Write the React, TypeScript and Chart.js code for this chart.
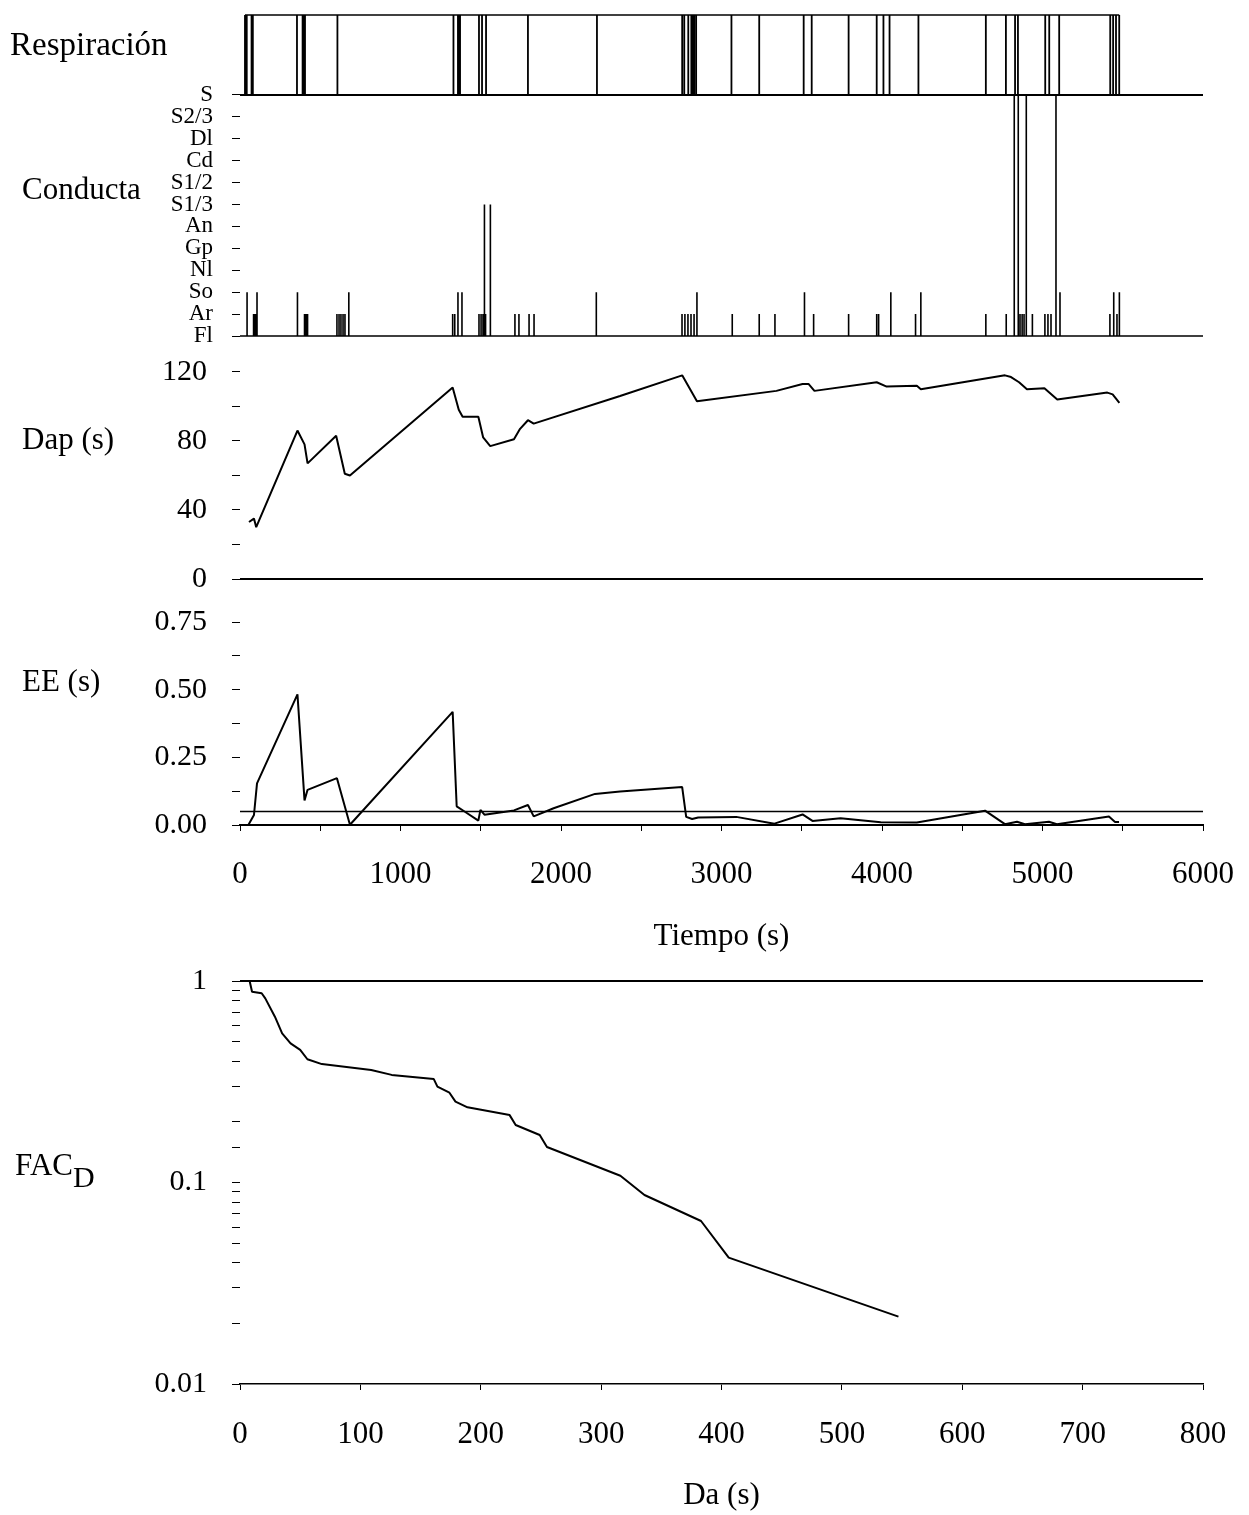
import React, { useEffect, useRef } from 'react';
import { Chart, registerables } from 'chart.js';

Chart.register(...registerables);

const SERIF = '"Liberation Serif", "Times New Roman", Times, serif';
Chart.defaults.font.family = SERIF;
Chart.defaults.color = '#000';

// ---------------- DATA ----------------
const timeTickLabels = [0, 1000, 2000, 3000, 4000, 5000, 6000];
const lagTickLabels = [0, 100, 200, 300, 400, 500, 600, 700, 800];
const dapTickLabels = [0, 40, 80, 120];
const eeTickLabels = [0, 0.25, 0.5, 0.75];
const facTickLabels = [1, 0.1, 0.01];

// Respiración: breath events (s)
const respTimes = [31, 42, 72, 80, 355, 390, 399, 405, 607, 1330, 1358, 1364, 1371, 1489, 1508, 1533, 1794, 2224,
  2755, 2768, 2793, 2812, 2822, 2830, 2842, 3062, 3235, 3512, 3562, 3792, 3967, 4009, 4047, 4227, 4647, 4772,
  4829, 4847, 5017, 5042, 5104, 5422, 5440, 5458, 5478];
const respTopLevel = 14.65;

// Conducta: categories from bottom (Fl) to top (S)
const conductaCategories = ['Fl', 'Ar', 'So', 'Nl', 'Gp', 'An', 'S1/3', 'S1/2', 'Cd', 'Dl', 'S2/3', 'S'];
const conductaTimes = [44, 81, 87, 93, 100, 106, 358, 402, 411, 421, 604, 617, 629, 642, 654, 678, 1325, 1338, 1358, 1383,
  1489, 1502, 1514, 1523, 1530, 1560, 1713, 1738, 1801, 1832, 2220, 2754, 2772, 2791, 2810, 2829, 2847, 3067, 3235,
  3333, 3517, 3574, 3792, 3967, 3979, 4055, 4209, 4242, 4647, 4774, 4824, 4849, 4860, 4873, 4885, 4899, 4937, 5015,
  5034, 5053, 5084, 5109, 5420, 5442, 5445, 5464, 5479];
const conductaCodes = ['So', 'Ar', 'Ar', 'Ar', 'Ar', 'So', 'So', 'Ar', 'Ar', 'Ar', 'Ar', 'Ar', 'Ar', 'Ar', 'Ar', 'So', 'Ar', 'Ar', 'So', 'So',
  'Ar', 'Ar', 'Ar', 'S1/3', 'Ar', 'S1/3', 'Ar', 'Ar', 'Ar', 'Ar', 'So', 'Ar', 'Ar', 'Ar', 'Ar', 'Ar', 'So', 'Ar', 'Ar',
  'Ar', 'So', 'Ar', 'Ar', 'Ar', 'Ar', 'So', 'Ar', 'So', 'Ar', 'Ar', 'S', 'S', 'Ar', 'Ar', 'Ar', 'S', 'Ar', 'Ar',
  'Ar', 'Ar', 'S', 'So', 'Ar', 'So', 'Ar', 'Ar', 'So'];

// Dap (s)
const dapTimes = [56, 87, 101, 358, 402, 421, 599, 653, 685, 1325, 1363, 1387, 1485, 1515, 1559, 1707, 1745, 1794, 1830,
  2368, 2755, 2847, 3342, 3505, 3542, 3579, 3967, 4029, 4217, 4242, 4766, 4804, 4854, 4903, 5012, 5092, 5404, 5437, 5479];
const dapValues = [33, 35, 30, 86, 78, 67, 83, 61, 60, 111, 98, 94, 94, 82, 77, 81, 87, 92, 90,
  106, 118, 103, 109, 113, 113, 109, 114, 111.5, 112, 110, 118, 117, 114, 110, 110.5, 104, 108, 107, 102];

// EE (s)
const eeTimes = [52, 87, 106, 358, 402, 421, 604, 685, 1325, 1350, 1399, 1485, 1498, 1523, 1707, 1794, 1830, 1954, 2212,
  2368, 2755, 2780, 2817, 2855, 3092, 3330, 3505, 3567, 3742, 3992, 4217, 4642, 4766, 4841, 4891, 5040, 5090, 5414, 5452, 5477];
const eeValues = [0, 0.037, 0.154, 0.483, 0.091, 0.13, 0.173, 0.001, 0.418, 0.069, 0.05, 0.016, 0.056, 0.038, 0.054, 0.074,
  0.032, 0.062, 0.115, 0.124, 0.14, 0.03, 0.022, 0.028, 0.03, 0.005, 0.039, 0.015, 0.025, 0.01, 0.009, 0.053, 0.003,
  0.012, 0.003, 0.012, 0.003, 0.031, 0.011, 0.011];
const eeReference = 0.05;

// FAC_D
const facLags = [0, 8, 10, 18, 21, 29, 35, 42, 50, 56, 68, 109, 126, 161, 164, 174, 179, 189, 224, 229, 249, 255, 316,
  336, 383, 406, 547];
const facValues = [1, 1, 0.885, 0.869, 0.82, 0.665, 0.55, 0.49, 0.455, 0.409, 0.387, 0.362, 0.342, 0.326, 0.299, 0.279,
  0.252, 0.236, 0.216, 0.193, 0.172, 0.15, 0.108, 0.0867, 0.0644, 0.0424, 0.0216];

const timeMin = 0;
const timeMax = 6000;
const lagMin = 0;
const lagMax = 800;

// ---------------- LAYOUT ----------------
const PAGE_W = 1249;
const PAGE_H = 1515;
const AXIS_LEFT = 240;
const RIGHT_PAD = PAGE_W - 1203;

type Item = { text: string; x: number; y: number; size: number; sub?: string; subSize?: number; subDy?: number };

const makeLabelPlugin = (items: Item[]) => ({
  id: 'sideLabels',
  afterDraw(chart: any) {
    const ctx = chart.ctx as CanvasRenderingContext2D;
    ctx.save();
    ctx.fillStyle = '#000';
    ctx.textBaseline = 'middle';
    ctx.textAlign = 'left';
    for (const it of items) {
      ctx.font = `${it.size}px ${SERIF}`;
      ctx.fillText(it.text, it.x, it.y);
      if (it.sub) {
        const w = ctx.measureText(it.text).width;
        ctx.font = `${it.subSize}px ${SERIF}`;
        ctx.fillText(it.sub, it.x + w, it.y + (it.subDy || 0));
      }
    }
    ctx.restore();
  },
});

const near = (a: number, b: number) => Math.abs(a - b) < 1e-6 * Math.max(1, Math.abs(b));

const lineDs = (data: any[], width = 2, extra: any = {}) => ({
  data,
  borderColor: '#000',
  borderWidth: width,
  pointRadius: 0,
  tension: 0,
  fill: false,
  clip: false,
  borderJoinStyle: 'bevel',
  ...extra,
});

const baseOptions = (top: number, bottom: number) => ({
  responsive: false,
  animation: false,
  devicePixelRatio: 1,
  events: [],
  layout: { padding: { top, bottom: PAGE_H - bottom, left: 0, right: RIGHT_PAD } },
  plugins: { legend: { display: false }, tooltip: { enabled: false }, title: { display: false } },
});

const yAxisBase = (fontSize: number, padding: number) => ({
  afterFit: (s: any) => { s.width = AXIS_LEFT; s.paddingTop = 0; s.paddingBottom = 0; },
  border: { display: false },
  grid: { drawOnChartArea: false, drawTicks: true, tickLength: 8, color: '#000', lineWidth: 1 },
  ticks: { font: { size: fontSize }, padding, autoSkip: false, color: '#000' },
});

const xAxisFit = (s: any) => { s.height = 130; s.paddingLeft = 0; s.paddingRight = 0; };

const hiddenX = { type: 'linear', min: timeMin, max: timeMax, display: false };

function makeConducta() {
  const S = conductaCategories.length - 1;
  const resp: any[] = [{ x: timeMin, y: S }];
  respTimes.forEach((t) => { resp.push({ x: t, y: S }, { x: t, y: respTopLevel }, { x: t, y: S }); });
  resp.push({ x: timeMax, y: S });
  const respTop = [{ x: respTimes[0], y: respTopLevel }, { x: respTimes[respTimes.length - 1], y: respTopLevel }];
  const cond: any[] = [{ x: timeMin, y: 0 }];
  conductaTimes.forEach((t, i) => {
    const lvl = conductaCategories.indexOf(conductaCodes[i]);
    cond.push({ x: t, y: 0 }, { x: t, y: lvl }, { x: t, y: 0 });
  });
  cond.push({ x: timeMax, y: 0 });
  const yb = yAxisBase(23, 19);
  return {
    type: 'line',
    data: { datasets: [lineDs(resp, 1.8), lineDs(respTop, 1.4), lineDs(cond, 1.6)] },
    options: {
      ...baseOptions(15, 336),
      scales: {
        x: hiddenX,
        y: {
          ...yb,
          type: 'linear', min: 0, max: respTopLevel,
          afterBuildTicks: (s: any) => { s.ticks = conductaCategories.map((_, i) => ({ value: i })); },
          ticks: { ...yb.ticks, callback: (v: any) => conductaCategories[v] ?? '' },
        },
      },
    },
    plugins: [makeLabelPlugin([
      { text: 'Respiración', x: 10, y: 46, size: 33 },
      { text: 'Conducta', x: 22, y: 191, size: 31 },
    ])],
  };
}

function makeDap() {
  const yb = yAxisBase(30, 25);
  return {
    type: 'line',
    data: {
      datasets: [
        lineDs(dapTimes.map((t, i) => ({ x: t, y: dapValues[i] })), 2),
        lineDs([{ x: timeMin, y: 0 }, { x: timeMax, y: 0 }], 2),
      ],
    },
    options: {
      ...baseOptions(346, 579),
      scales: {
        x: hiddenX,
        y: {
          ...yb,
          type: 'linear', min: 0, max: 135,
          ticks: { ...yb.ticks, stepSize: 20, includeBounds: false,
            callback: (v: any) => (dapTickLabels.some((l) => near(v, l)) ? String(v) : '') },
        },
      },
    },
    plugins: [makeLabelPlugin([{ text: 'Dap (s)', x: 22, y: 441, size: 31 }])],
  };
}

function makeEE() {
  const yb = yAxisBase(30, 25);
  return {
    type: 'line',
    data: {
      datasets: [
        lineDs(eeTimes.map((t, i) => ({ x: t, y: eeValues[i] })), 2),
        lineDs([{ x: timeMin, y: eeReference }, { x: timeMax, y: eeReference }], 1.6),
      ],
    },
    options: {
      ...baseOptions(595, 825 + 130),
      scales: {
        x: {
          type: 'linear', min: timeMin, max: timeMax,
          afterFit: xAxisFit,
          border: { display: true, color: '#000', width: 2 },
          grid: { drawOnChartArea: false, drawTicks: true, tickLength: 6, color: '#000', lineWidth: 1 },
          ticks: { stepSize: 500, autoSkip: false, maxRotation: 0, padding: 25, font: { size: 31 }, color: '#000',
            callback: (v: any) => (timeTickLabels.some((l) => near(v, l)) ? String(v) : '') },
          title: { display: true, text: 'Tiempo (s)', font: { size: 31 }, color: '#000', padding: { top: 24, bottom: 0 } },
        },
        y: {
          ...yb,
          type: 'linear', min: 0, max: 0.85,
          ticks: { ...yb.ticks, stepSize: 0.125, includeBounds: false,
            callback: (v: any) => { const l = eeTickLabels.find((e) => near(v, e)); return l === undefined ? '' : l.toFixed(2); } },
        },
      },
    },
    plugins: [makeLabelPlugin([{ text: 'EE (s)', x: 22, y: 683, size: 31 }])],
  };
}

function makeFac() {
  const yb = yAxisBase(30, 25);
  return {
    type: 'line',
    data: {
      datasets: [
        lineDs(facLags.map((d, i) => ({ x: d, y: facValues[i] })), 2),
        lineDs([{ x: lagMin, y: 1 }, { x: lagMax, y: 1 }], 2),
      ],
    },
    options: {
      ...baseOptions(981, 1384 + 130),
      scales: {
        x: {
          type: 'linear', min: lagMin, max: lagMax,
          afterFit: xAxisFit,
          border: { display: true, color: '#000', width: 1.6, dash: [16, 10] },
          grid: { drawOnChartArea: false, drawTicks: true, tickLength: 6, color: '#000', lineWidth: 1 },
          ticks: { stepSize: 100, autoSkip: false, maxRotation: 0, padding: 26, font: { size: 31 }, color: '#000',
            callback: (v: any) => (lagTickLabels.some((l) => near(v, l)) ? String(v) : '') },
          title: { display: true, text: 'Da (s)', font: { size: 31 }, color: '#000', padding: { top: 24, bottom: 0 } },
        },
        y: {
          ...yb,
          type: 'logarithmic', min: 0.01, max: 1,
          ticks: { ...yb.ticks,
            callback: (v: any) => { const l = facTickLabels.find((e) => near(v, e)); return l === undefined ? '' : String(l); } },
        },
      },
    },
    plugins: [makeLabelPlugin([{ text: 'FAC', x: 15, y: 1167, size: 31, sub: 'D', subSize: 30, subDy: 12 }])],
  };
}

function Panel({ make }: { make: () => any }) {
  const ref = useRef<HTMLCanvasElement>(null);
  useEffect(() => {
    if (!ref.current) return;
    const chart = new Chart(ref.current, make());
    return () => chart.destroy();
  }, [make]);
  return (
    <canvas
      ref={ref}
      width={PAGE_W}
      height={PAGE_H}
      style={{ position: 'absolute', left: 0, top: 0, width: PAGE_W, height: PAGE_H }}
    />
  );
}

const makers = [makeConducta, makeDap, makeEE, makeFac];

export default function App() {
  return (
    <div style={{ position: 'absolute', left: 0, top: 0, width: PAGE_W, height: PAGE_H, background: '#fff', overflow: 'hidden' }}>
      {makers.map((m, i) => <Panel key={i} make={m} />)}
    </div>
  );
}
